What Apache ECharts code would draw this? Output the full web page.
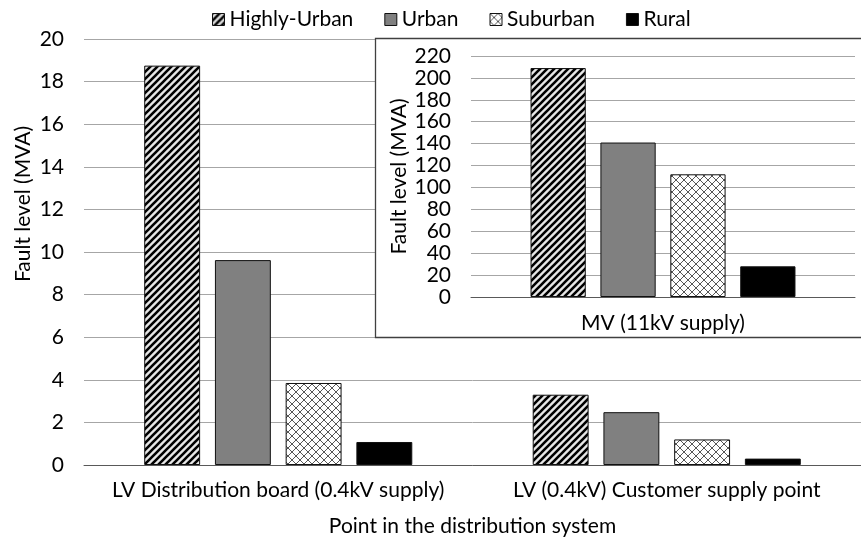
<!DOCTYPE html>
<html><head><meta charset="utf-8">
<script src="https://cdn.jsdelivr.net/npm/echarts@6/dist/echarts.min.js"></script>
<style>html,body{margin:0;padding:0;background:#fff}#c{width:861px;height:542px}</style>
</head><body><div id="c"></div>
<script>
const seriesNames = ['Highly-Urban', 'Urban', 'Suburban', 'Rural'];
const mainCategories = ['LV Distribution board (0.4kV supply)', 'LV (0.4kV) Customer supply point'];
const mainHighlyUrban = [18.75, 3.3];
const mainUrban = [9.62, 2.48];
const mainSuburban = [3.85, 1.2];
const mainRural = [1.08, 0.3];
const insetCategories = ['MV (11kV supply)'];
const insetHighlyUrban = [209];
const insetUrban = [141];
const insetSuburban = [112];
const insetRural = [28];

const FONT = 'Lato';

function stripe() {
  const s = 7, c = document.createElement('canvas');
  c.width = s; c.height = s;
  const g = c.getContext('2d');
  g.fillStyle = '#e6e6e6'; g.fillRect(0, 0, s, s);
  g.strokeStyle = '#000'; g.lineWidth = 2.6;
  g.beginPath();
  g.moveTo(-s, s); g.lineTo(s, -s);
  g.moveTo(0, 2 * s); g.lineTo(2 * s, 0);
  g.moveTo(0, s); g.lineTo(s, 0);
  g.stroke();
  return c;
}
function cross() {
  const s = 8, c = document.createElement('canvas');
  c.width = s; c.height = s;
  const g = c.getContext('2d');
  g.fillStyle = '#fff'; g.fillRect(0, 0, s, s);
  g.strokeStyle = '#444'; g.lineWidth = 0.9;
  g.beginPath();
  g.moveTo(0, 0); g.lineTo(s, s);
  g.moveTo(0, s); g.lineTo(s, 0);
  g.stroke();
  return c;
}
const fills = [
  { image: stripe(), repeat: 'repeat' },
  '#808080',
  { image: cross(), repeat: 'repeat' },
  '#000000'
];

const chart = echarts.init(document.getElementById('c'));
const txt = { fontFamily: FONT, fontSize: 21, color: '#000' };

function mk(name, data, i, axisIdx) {
  return {
    name: name, type: 'bar', data: data,
    xAxisIndex: axisIdx, yAxisIndex: axisIdx,
    barGap: '26.5%', barCategoryGap: '31%',
    itemStyle: { color: fills[i], borderColor: '#111', borderWidth: 1 },
    z: axisIdx ? 8 : 2,
    animation: false
  };
}

chart.setOption({
  animation: false,
  textStyle: { fontFamily: FONT },
  legend: {
    top: 4, left: 207, itemWidth: 12, itemHeight: 12, itemGap: 31,
    icon: 'rect',
    textStyle: txt, data: seriesNames,
    itemStyle: { borderColor: '#111', borderWidth: 1 }
  },
  grid: [
    { left: 84, top: 39, width: 787, height: 428 },
    { left: 471, top: 56, right: 6, height: 241 }
  ],
  xAxis: [
    { type: 'category', gridIndex: 0, data: mainCategories,
      axisLine: { lineStyle: { color: '#595959', width: 1 } },
      axisTick: { show: false },
      axisLabel: Object.assign({ margin: 15, interval: 0, hideOverlap: false }, txt),
      name: 'Point in the distribution system', nameLocation: 'middle', nameGap: 51,
      nameTextStyle: txt },
    { type: 'category', gridIndex: 1, data: insetCategories, z: 6,
      axisLine: { lineStyle: { color: '#595959', width: 1 } },
      axisTick: { show: false },
      axisLabel: Object.assign({ margin: 16, interval: 0 }, txt) }
  ],
  yAxis: [
    { type: 'value', gridIndex: 0, min: 0, max: 20, interval: 2,
      axisLine: { show: false }, axisTick: { show: false },
      axisLabel: Object.assign({ margin: 20 }, txt),
      splitLine: { lineStyle: { color: '#a6a6a6', width: 1 } } },
    { type: 'value', gridIndex: 1, min: 0, max: 220, interval: 20, z: 6,
      axisLine: { show: false }, axisTick: { show: false },
      axisLabel: Object.assign({ margin: 20 }, txt),
      splitLine: { lineStyle: { color: '#a6a6a6', width: 1 } },
      name: 'Fault level (MVA)', nameLocation: 'middle', nameGap: 61,
      nameTextStyle: txt }
  ],
  graphic: [
    { type: 'rect', z: 4, shape: { x: 375.5, y: 38.5, width: 500, height: 299 },
      style: { fill: '#fff', stroke: '#404040', lineWidth: 1.3 } },
    { type: 'text', z: 5, x: 23, y: 204, rotation: Math.PI / 2,
      style: { text: 'Fault level (MVA)', fontFamily: FONT, fontSize: 21, fill: '#000',
        align: 'center', verticalAlign: 'middle' } }
  ],
  series: [
    mk(seriesNames[0], mainHighlyUrban, 0, 0),
    mk(seriesNames[1], mainUrban, 1, 0),
    mk(seriesNames[2], mainSuburban, 2, 0),
    mk(seriesNames[3], mainRural, 3, 0),
    mk(seriesNames[0], insetHighlyUrban, 0, 1),
    mk(seriesNames[1], insetUrban, 1, 1),
    mk(seriesNames[2], insetSuburban, 2, 1),
    mk(seriesNames[3], insetRural, 3, 1)
  ]
});
</script></body></html>
